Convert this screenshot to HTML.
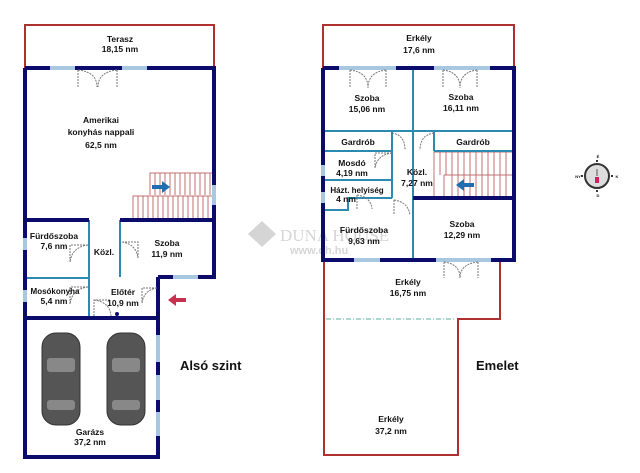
<!DOCTYPE html>
<html><head><meta charset="utf-8"><style>
html,body{margin:0;padding:0;background:#fff;width:640px;height:473px;overflow:hidden}
text{font-family:"Liberation Sans",sans-serif;font-weight:bold;fill:#111}
</style></head><body>
<svg width="640" height="473" viewBox="0 0 640 473" xmlns="http://www.w3.org/2000/svg">
<g opacity="0.35">
<polygon points="262,221 276,234 262,247 248,234" fill="#888"/>
<text x="280" y="241" style="font-family:'Liberation Serif',serif;font-weight:normal;fill:#888" font-size="17">DUNA HOUSE</text>
<text x="290" y="254" style="fill:#888" font-size="11">www.dh.hu</text>
</g>

<g fill="none">
<rect x="25" y="25" width="189" height="43" stroke="#b03030" stroke-width="2"/>
<g stroke="#c07070" stroke-width="1">
<path d="M150,195 V173 H212 M133,218 V196 H212"/>
<path d="M155,173V195M160,173V195M165,173V195M170,173V195M175,173V195M180,173V195M185,173V195M190,173V195M195,173V195M200,173V195M205,173V195M210,173V195"/>
<path d="M138,196V218M143,196V218M148,196V218M153,196V218M158,196V218M163,196V218M168,196V218M173,196V218M178,196V218M183,196V218M188,196V218M193,196V218M198,196V218M203,196V218M208,196V218"/>
</g>
<g stroke="#2a8ab0" stroke-width="2">
<path d="M89,220 V318 M27,278 H89 M120,220 V277"/>
</g>
<g stroke="#0b0b6b" stroke-width="4">
<path d="M25,68 H214 V277 H158 M158,277 V457 H25 V68"/>
<path d="M25,220 H89 M120,220 H214 M25,318 H158"/>
</g>
<g stroke="#a8c8e2" stroke-width="4">
<path d="M50,68H75M122,68H147M214,185V205M25,238V250M25,290V302M173,277H198M158,335V362M158,375V400M158,412V436"/>
</g>
<g stroke="#777" stroke-width="1" stroke-dasharray="2,1">
<path d="M78,70V87M117,70V87M78,70 Q97,72 97,87 M117,70 Q98,72 98,87"/>
<path d="M88,245H70V262 M88,245 Q72,247 70,262"/>
<path d="M88,287H70V304 M88,287 Q72,289 70,304"/>
<path d="M122,242H138V258 M122,242 Q136,244 138,258"/>
<path d="M94,316V300H111 M94,300 Q110,302 111,316"/>
<path d="M157,288H142V303 M157,288 Q144,290 142,303"/>
</g>
<circle cx="117" cy="314" r="2" fill="#0b0b6b"/>
</g>
<path d="M152,185 h10 v-4 l8,6 l-8,6 v-4 h-10z" fill="#1f6fb0"/>
<path d="M186,298 h-10 v-4 l-8,6 l8,6 v-4 h10z" fill="#c83050"/>
<g fill="#555" stroke="#333">
<rect x="42" y="333" width="38" height="92" rx="14"/>
<rect x="107" y="333" width="38" height="92" rx="14"/>
</g>
<g fill="#888">
<rect x="47" y="358" width="28" height="14" rx="3"/><rect x="47" y="400" width="28" height="10" rx="3"/>
<rect x="112" y="358" width="28" height="14" rx="3"/><rect x="112" y="400" width="28" height="10" rx="3"/>
</g>
<g font-size="8.5" text-anchor="middle">
<text x="120" y="42">Terasz</text><text x="120" y="52">18,15 nm</text>
<text x="101" y="123">Amerikai</text><text x="101" y="135">konyhás nappali</text><text x="101" y="148">62,5 nm</text>
<text x="54" y="239">Fürdőszoba</text><text x="54" y="249">7,6 nm</text>
<text x="104" y="255">Közl.</text>
<text x="167" y="246">Szoba</text><text x="167" y="257">11,9 nm</text>
<text x="55" y="294" font-size="8">Mosókonyha</text><text x="54" y="304">5,4 nm</text>
<text x="123" y="295">Előtér</text><text x="123" y="306">10,9 nm</text>
<text x="90" y="435">Garázs</text><text x="90" y="445">37,2 nm</text>
</g>
<text x="180" y="370" font-size="13">Alsó szint</text>

<g fill="none">
<rect x="323" y="25" width="191" height="43" stroke="#b03030" stroke-width="2"/>
<path d="M324,260 V455 H458 V319 H500 V260" stroke="#b03030" stroke-width="2"/>
<path d="M326,319 H456" stroke="#5ab0a0" stroke-width="1" stroke-dasharray="5,2,1,2"/>
<g stroke="#c07070" stroke-width="1">
<path d="M434,197V152H512M444,175H512M444,175V197"/>
<path d="M440,152V175M446,152V175M452,152V197M458,152V197M464,152V197M470,152V197M476,152V197M482,152V197M488,152V197M494,152V197M500,152V197M506,152V197"/>
</g>
<g stroke="#2a8ab0" stroke-width="2">
<path d="M413,69V198 M325,131H512 M325,151H392 M434,151H512 M392,131V198 M434,131V151 M325,180H392 M325,210H348V198H392 M413,198V260"/>
</g>
<g stroke="#0b0b6b" stroke-width="4">
<path d="M323,68H514V260H323V68M413,198H514"/>
</g>
<g stroke="#a8c8e2" stroke-width="4">
<path d="M339,68H396M434,68H490M323,165V176M323,192V203M354,260H380M436,260H491"/>
</g>
<g stroke="#777" stroke-width="1" stroke-dasharray="2,1">
<path d="M350,70V88M386,70V88M350,70 Q368,72 368,88M386,70 Q368,72 368,88"/>
<path d="M443,70V88M477,70V88M443,70 Q460,72 460,88M477,70 Q460,72 460,88"/>
<path d="M392,133 Q405,135 405,150 M434,133 Q420,135 420,150"/>
<path d="M392,153H375V168 M392,153 Q377,155 375,168"/>
<path d="M357,209V195 M357,195 Q371,197 372,209"/>
<path d="M394,200V215 M394,200 Q408,202 410,215"/>
<path d="M444,262V278M478,262V278M444,262 Q460,264 460,278M478,262 Q460,264 460,278"/>
</g>
</g>
<path d="M474,183 h-10 v-4 l-8,6 l8,6 v-4 h10z" fill="#1f6fb0"/>
<g font-size="8.5" text-anchor="middle">
<text x="419" y="41">Erkély</text><text x="419" y="53">17,6 nm</text>
<text x="367" y="101">Szoba</text><text x="367" y="112">15,06 nm</text>
<text x="461" y="100">Szoba</text><text x="461" y="111">16,11 nm</text>
<text x="358" y="145">Gardrób</text><text x="473" y="145">Gardrób</text>
<text x="352" y="166">Mosdó</text><text x="352" y="176">4,19 nm</text>
<text x="417" y="175">Közl.</text><text x="417" y="186">7,27 nm</text>
<text x="357" y="193" font-size="8">Házt. helyiség</text><text x="346" y="202">4 nm</text>
<text x="364" y="233">Fürdőszoba</text><text x="364" y="244">9,63 nm</text>
<text x="462" y="227">Szoba</text><text x="462" y="238">12,29 nm</text>
<text x="408" y="285">Erkély</text><text x="408" y="296">16,75 nm</text>
<text x="391" y="422">Erkély</text><text x="391" y="434">37,2 nm</text>
</g>
<text x="476" y="370" font-size="13">Emelet</text>

<circle cx="597" cy="176" r="12" fill="#ddd" stroke="#333" stroke-width="2"/>
<path d="M597,162V160M597,190V192M583,176H581M611,176H613" stroke="#333" stroke-width="2"/>
<rect x="595" y="177" width="4" height="6" fill="#d02060"/>
<rect x="596" y="169" width="2" height="7" fill="#999"/>
<g font-size="4" text-anchor="middle"><text x="598" y="158">É</text><text x="578" y="178">NY</text><text x="617" y="178">K</text><text x="598" y="197">D</text></g>
</svg>
</body></html>
